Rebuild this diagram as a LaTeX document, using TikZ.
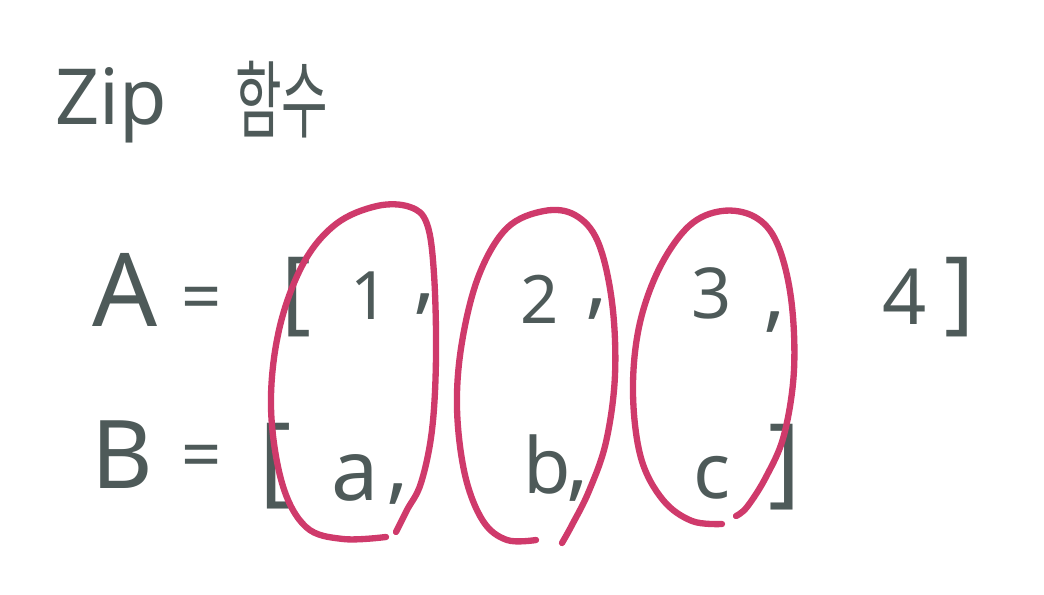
\documentclass[tikz,border=0pt]{standalone}
\usepackage{fontspec}
\setmainfont{Noto Sans}
\newfontfamily\krfont{Noto Sans CJK KR}
\definecolor{penColor}{HTML}{4E5A59}
\definecolor{penColor2}{HTML}{CF3A6B}
\tikzset{
  hand/.style={text=penColor, inner sep=0pt},
  pairloop/.style={draw=penColor2, line width=1.8pt, line cap=round, line join=round}
}
\begin{document}
\begin{tikzpicture}
				\useasboundingbox (0,0) rectangle (10.44,5.94);
				% title
				\node [hand, anchor=base west, font=\fontsize{22}{26}\selectfont] (title) at (0.55,4.69) {Zip};
				\node [hand, xscale=0.6, font=\krfont\fontsize{24}{28}\selectfont] (titlekr) at (2.82,4.94) {함수};
				% first list
				\node [hand, font=\fontsize{29}{34}\selectfont] (nameA) at (1.25,3.04) {A};
				\node [hand, font=\fontsize{20}{24}\selectfont] (eqA) at (2.02,2.90) {=};
				\node [hand, font=\fontsize{26}{30}\selectfont] (openA) at (2.97,2.97) {[};
				\node [hand, font=\fontsize{19}{22}\selectfont] (one) at (3.70,2.98) {1};
				\node [hand, font=\fontsize{24}{28}\selectfont] (commaA1) at (4.25,2.90) {,};
				\node [hand, font=\fontsize{19}{22}\selectfont] (two) at (5.40,2.95) {2};
				\node [hand, font=\fontsize{24}{28}\selectfont] (commaA2) at (5.97,2.85) {,};
				\node [hand, font=\fontsize{20}{24}\selectfont] (three) at (7.12,3.01) {3};
				\node [hand, font=\fontsize{24}{28}\selectfont] (commaA3) at (7.75,2.72) {,};
				\node [hand, font=\fontsize{22}{26}\selectfont] (four) at (9.05,2.97) {4};
				\node [hand, font=\fontsize{26}{30}\selectfont] (closeA) at (9.60,2.97) {]};
				% second list
				\node [hand, font=\fontsize{27}{31}\selectfont] (nameB) at (1.22,1.39) {B};
				\node [hand, font=\fontsize{20}{24}\selectfont] (eqB) at (2.02,1.32) {=};
				\node [hand, font=\fontsize{28}{32}\selectfont] (openB) at (2.76,1.28) {[};
				\node [hand, font=\fontsize{24}{28}\selectfont] (elema) at (3.55,1.16) {a};
				\node [hand, font=\fontsize{24}{28}\selectfont] (commaB1) at (3.98,1.00) {,};
				\node [hand, font=\fontsize{22}{26}\selectfont] (elemb) at (5.47,1.29) {b};
				\node [hand, font=\fontsize{24}{28}\selectfont] (commaB2) at (5.78,1.03) {,};
				\node [hand, font=\fontsize{22}{26}\selectfont] (elemc) at (7.12,1.16) {c};
				\node [hand, font=\fontsize{28}{32}\selectfont] (closeB) at (7.85,1.27) {]};
				% pairs
				\draw [pairloop] plot [smooth, tension=0.6] coordinates {(3.86,0.57) (3.43,0.55) (3.06,0.67) (2.82,1.11) (2.71,1.87) (2.79,2.64) (3.03,3.30) (3.36,3.70) (3.77,3.88) (4.10,3.87) (4.27,3.70) (4.34,3.20) (4.36,2.37) (4.32,1.64) (4.21,1.11) (4.07,0.84) (3.96,0.62)};
				\draw [pairloop] plot [smooth, tension=0.6] coordinates {(5.36,0.54) (5.07,0.54) (4.83,0.73) (4.65,1.19) (4.57,1.86) (4.62,2.52) (4.79,3.19) (5.07,3.66) (5.44,3.83) (5.75,3.79) (5.98,3.52) (6.12,2.92) (6.15,2.19) (6.06,1.52) (5.89,1.03) (5.72,0.69) (5.62,0.51)};
				\draw [pairloop] plot [smooth, tension=0.6] coordinates {(7.22,0.70) (6.92,0.73) (6.63,0.94) (6.41,1.36) (6.33,2.01) (6.39,2.67) (6.59,3.25) (6.89,3.68) (7.22,3.83) (7.55,3.77) (7.77,3.51) (7.91,2.96) (7.94,2.24) (7.84,1.59) (7.66,1.17) (7.47,0.87) (7.36,0.78)};
\end{tikzpicture}
\end{document}
